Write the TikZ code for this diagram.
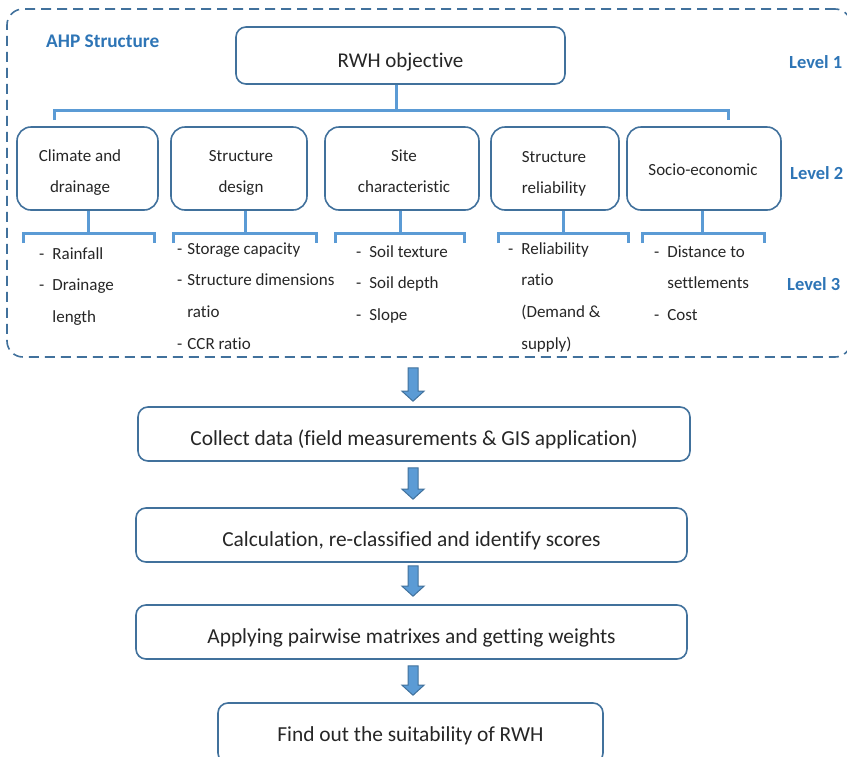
\documentclass[tikz,border=0pt]{standalone}
\usepackage{fontspec}
\setmainfont{Carlito}[Ligatures=NoCommon]
\usetikzlibrary{calc}
\definecolor{boxblue}{HTML}{41719C}
\definecolor{linkblue}{HTML}{5B9BD5}
\definecolor{lvlblue}{HTML}{2E75B6}
\definecolor{ink}{HTML}{262626}
\tikzset{
 box/.style={draw=boxblue, line width=1.6pt, rounded corners=10pt, inner sep=0pt, text=ink},
 bigbox/.style={box, font=\fontsize{21.4}{25}\selectfont, text height=27pt, text depth=4pt, minimum height=54pt},
 midbox/.style={box, rounded corners=14pt, minimum height=83pt},
 conn/.style={draw=linkblue, line width=3pt},
 lvl/.style={text=lvlblue, font=\bfseries\fontsize{18.5}{22}\selectfont, anchor=base west, inner sep=0pt},
 ltext/.style={text=ink, font=\fontsize{17}{31.7}\selectfont, inner sep=0pt},
 dashframe/.style={draw=boxblue, line width=1.6pt, dash pattern=on 10pt off 6pt, rounded corners=16pt, inner sep=0pt},
 barrowstyle/.style={fill=linkblue, draw=boxblue, line width=1pt, line join=miter}
}
\newcommand\blockarrow[2]{\draw[barrowstyle] let \p1=#1, \p2=#2 in
  (\x1-5pt,\y1) -- (\x1+5pt,\y1) -- (\x1+5pt,\y2+10pt) -- (\x1+11pt,\y2+10pt) --
  (\x1,\y2) -- (\x1-11pt,\y2+10pt) -- (\x1-5pt,\y2+10pt) -- cycle;}
\begin{document}
\begin{tikzpicture}[x=1pt,y=-1pt]
\useasboundingbox (0,0) rectangle (847,756);

% dashed frame
\node[dashframe, minimum width=844pt, minimum height=348pt] (frame) at (429,183) {};

% labels
\node[lvl, font=\bfseries\fontsize{19.3}{22}\selectfont] (ahp) at (46,47) {AHP Structure};
\node[lvl] (lv1) at (789,68) {Level 1};
\node[lvl] (lv2) at (790,179) {Level 2};
\node[lvl] (lv3) at (787,290) {Level 3};

% level 1
\node[bigbox, minimum width=329pt, minimum height=57pt, font=\fontsize{21}{25}\selectfont] (obj) at (400.5,55.5) {RWH objective};

% level 2 boxes
\node[midbox, minimum width=141pt] (b1) at (87.5,168.5) {};
\node[midbox, minimum width=136pt] (b2) at (239,168.5) {};
\node[midbox, minimum width=154pt] (b3) at (402,168.5) {};
\node[midbox, minimum width=128pt] (b4) at (555,168.5) {};
\node[midbox, minimum width=154pt] (b5) at (704,168.5) {};

\node[ltext, anchor=base] (t1) at (80,161) {\begin{tabular}[t]{@{}c@{}}Climate and\\drainage\end{tabular}};
\node[ltext, anchor=base] (t2) at (241,161) {\begin{tabular}[t]{@{}c@{}}Structure\\design\end{tabular}};
\node[ltext, anchor=base] (t3) at (404,161) {\begin{tabular}[t]{@{}c@{}}Site\\characteristic\end{tabular}};
\node[ltext, anchor=base] (t4) at (554,162) {\begin{tabular}[t]{@{}c@{}}Structure\\reliability\end{tabular}};
\node[ltext, anchor=base] (t5) at (703,175) {Socio-economic};

% level 1 -> level 2 bracket
\coordinate (h1) at (0,110);
\coordinate (s1) at (396,0);
\coordinate (brL) at (54,120);
\coordinate (brR) at (728,120);
\draw[conn] (s1 |- obj.south) -- (s1 |- h1);
\draw[conn] (brL) |- (brR |- h1) -- (brR);

% level 2 -> level 3 brackets
\foreach \b/\sx/\lx/\rx in {b1/88/23/154, b2/245/173/316, b3/400/335/464, b4/563/498/628, b5/702/642/764}{
  \coordinate (\b-st) at (\sx,233);
  \coordinate (\b-l) at (\lx,243);
  \coordinate (\b-r) at (\rx,243);
  \draw[conn] (\b-st |- \b.south) -- (\b-st);
  \draw[conn] (\b-l) |- (\b-st) -| (\b-r);
}

% level 3 lists
\node[ltext, anchor=base west] (l1) at (39,259) {\begin{tabular}[t]{@{}l@{\hspace{8pt}}l@{}}-&Rainfall\\-&Drainage\\&length\end{tabular}};
\node[ltext, anchor=base west] (l2) at (177,254) {\begin{tabular}[t]{@{}l@{\hspace{5pt}}l@{}}-&Storage capacity\\-&Structure dimensions\\&ratio\\-&CCR ratio\end{tabular}};
\node[ltext, anchor=base west] (l3) at (356,257) {\begin{tabular}[t]{@{}l@{\hspace{8pt}}l@{}}-&Soil texture\\-&Soil depth\\-&Slope\end{tabular}};
\node[ltext, anchor=base west] (l4) at (508,254) {\begin{tabular}[t]{@{}l@{\hspace{8pt}}l@{}}-&Reliability\\&ratio\\&(Demand \&\\&supply)\end{tabular}};
\node[ltext, anchor=base west] (l5) at (654,257) {\begin{tabular}[t]{@{}l@{\hspace{8pt}}l@{}}-&Distance to\\&settlements\\-&Cost\end{tabular}};

% process boxes
\node[bigbox, minimum width=552pt] (collect) at (414,434) {Collect data (field measurements \& GIS application)};
\node[bigbox, minimum width=551pt] (calcbox) at (411.5,535) {Calculation, re-classified and identify scores};
\node[bigbox, minimum width=551pt] (apply) at (411.5,632) {Applying pairwise matrixes and getting weights};
\node[bigbox, minimum width=385pt, minimum height=60pt, text height=21pt] (find) at (410.5,733) {Find out the suitability of RWH};

% block arrows
\coordinate (ax) at (413,0);
\blockarrow{($(ax |- frame.south)+(0,10)$)}{($(ax |- collect.north)+(0,-5)$)}
\blockarrow{($(ax |- collect.south)+(0,6)$)}{($(ax |- calcbox.north)+(0,-8)$)}
\blockarrow{($(ax |- calcbox.south)+(0,3)$)}{($(ax |- apply.north)+(0,-8)$)}
\blockarrow{($(ax |- apply.south)+(0,6)$)}{($(ax |- find.north)+(0,-7)$)}
\end{tikzpicture}
\end{document}
